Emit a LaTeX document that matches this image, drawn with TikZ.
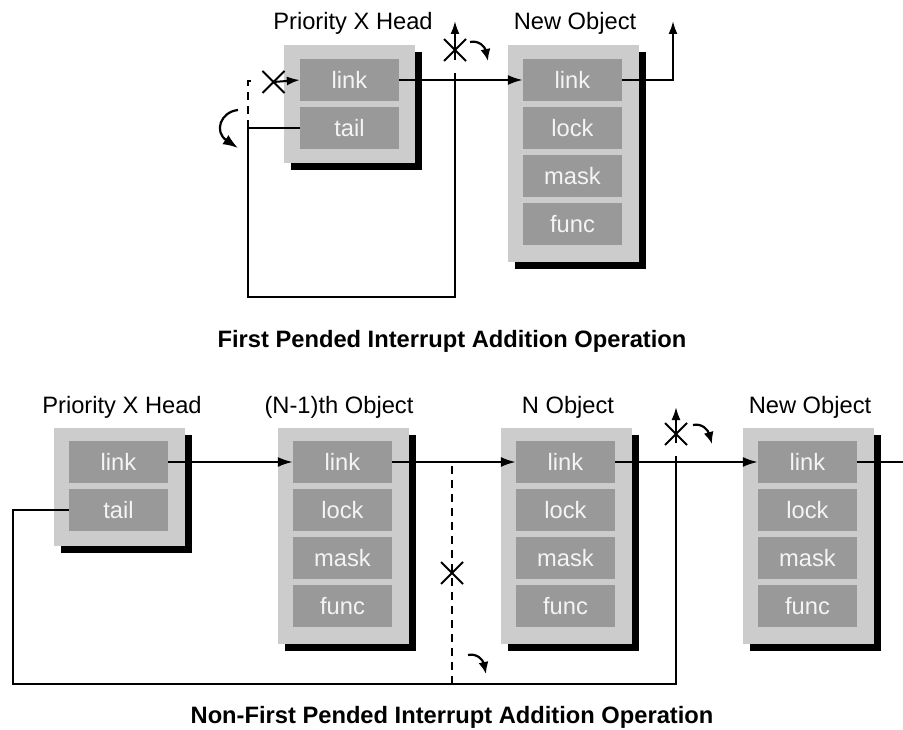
\documentclass[tikz,border=0pt]{standalone}
\usepackage{fontspec}
\setmainfont{Liberation Sans}
\usetikzlibrary{arrows.meta,shapes.misc,shadows}
\definecolor{boxgray}{HTML}{CCCCCC}
\definecolor{fieldgray}{HTML}{999999}
\definecolor{fieldtext}{HTML}{F4F4F4}
\newcommand\dfont{\fontsize{23.7}{28}\selectfont}
\begin{document}
\begin{tikzpicture}[x=1pt,y=-1pt,
  outerbox/.style={fill=boxgray, minimum width=131pt, inner sep=0pt,
    drop shadow={shadow xshift=7pt, shadow yshift=-7pt, fill=black, opacity=1}},
  field/.style={fill=fieldgray, text=fieldtext, minimum width=99pt, minimum height=42pt, inner sep=0pt, font=\dfont},
  lbl/.style={font=\dfont, text=black, inner sep=0pt},
  ttl/.style={font=\dfont\bfseries, text=black, inner sep=0pt},
  conn/.style={line width=2pt},
  dsh/.style={conn, dash pattern=on 8pt off 6pt},
  arr/.style={conn, -{Latex[length=15pt,width=10pt]}},
  arrsm/.style={conn, -{Latex[length=13pt,width=9pt]}},
  xmark/.style={cross out, draw, line width=2pt, minimum size=20pt, inner sep=0pt},
  curl/.style={line width=2.2pt, -{Latex[length=12pt,width=10pt]}},
  bigcurl/.style={line width=2.2pt, -{Latex[length=15pt,width=11pt]}}]
\useasboundingbox (0,0) rectangle (903,730);

% ---------- top diagram ----------
\node[outerbox, minimum height=118pt] (thead) at (349.5,104) {};
\node[field] (thl) at (349.5,80) {link};
\node[field] (tht) at (349.5,128) {tail};
\node[lbl] (thlab) at (353,23) {Priority X Head};

\node[outerbox, minimum height=217pt] (tnew) at (573,153.5) {};
\node[field] (tnl) at (572.5,80) {link};
\node[field] (tnk) at (572.5,128) {lock};
\node[field] (tnm) at (572.5,176) {mask};
\node[field] (tnf) at (572.5,224) {func};
\node[lbl] (tnlab) at (575,23) {New Object};

\coordinate (tj) at (455,80);
\coordinate (tjt) at (455,73);
\coordinate (tc1) at (248,128);
\coordinate (tc2) at (248,297);
\coordinate (tc3) at (455,297);
\coordinate (tc4) at (248,81);
\coordinate (tc5) at (255,81);
\draw[arr] (thl.east) -- (tnl.west);
\draw[conn] (tht.west) -- (tc1) -- (tc2) -- (tc3) -- (tjt);
\node[xmark] (tx1) at (273.5,82) {};
\draw[dsh] (tc1) -- (tc4) -- (tc5);
\draw[arrsm] (tx1.center) -- (thl.west);

\node[xmark] (tx2) at (455,50) {};
\coordinate (tup0) at (455,60);
\coordinate (tup1) at (455,21);
\draw[arrsm] (tup0) -- (tup1);
\coordinate (tcu0) at (470,42);
\coordinate (tcu1) at (488,61);
\draw[curl] (tcu0) .. controls (479,40) and (485,47) .. (tcu1);

\coordinate (tr1) at (673,80);
\coordinate (tr2) at (673,21);
\draw[arrsm] (tnl.east) -- (tr1) -- (tr2);

\coordinate (tl0) at (238,110);
\coordinate (tl1) at (238,148);
\draw[bigcurl] (tl0) .. controls (220,112) and (214,132) .. (tl1);

\node[ttl] (t1) at (452,341) {First Pended Interrupt Addition Operation};

% ---------- bottom diagram ----------
\node[outerbox, minimum height=118pt] (bhead) at (119,487) {};
\node[field] (bhl) at (118.5,462) {link};
\node[field] (bht) at (118.5,510) {tail};
\node[lbl] (bhlab) at (122,407) {Priority X Head};

\node[outerbox, minimum height=216pt] (bo1) at (343,536) {};
\node[field] (b1l) at (342.5,462) {link};
\node[field] (b1k) at (342.5,510) {lock};
\node[field] (b1m) at (342.5,558) {mask};
\node[field] (b1f) at (342.5,606) {func};
\node[lbl] (b1lab) at (339,407) {(N-1)th Object};

\node[outerbox, minimum height=216pt] (bo2) at (566,536) {};
\node[field] (b2l) at (565.5,462) {link};
\node[field] (b2k) at (565.5,510) {lock};
\node[field] (b2m) at (565.5,558) {mask};
\node[field] (b2f) at (565.5,606) {func};
\node[lbl] (b2lab) at (568,407) {N Object};

\node[outerbox, minimum height=216pt] (bo3) at (808,536) {};
\node[field] (b3l) at (807.5,462) {link};
\node[field] (b3k) at (807.5,510) {lock};
\node[field] (b3m) at (807.5,558) {mask};
\node[field] (b3f) at (807.5,606) {func};
\node[lbl] (b3lab) at (810,407) {New Object};

\draw[arr] (bhl.east) -- (b1l.west);
\draw[arr] (b1l.east) -- (b2l.west);

\coordinate (bd0) at (452,466);
\coordinate (bd1) at (452,684);
\draw[dsh] (bd0) -- (bd1);
\node[xmark] (bx1) at (452,573) {};
\coordinate (bcu0) at (468,655);
\coordinate (bcu1) at (486,674);
\draw[curl] (bcu0) .. controls (477,653) and (483,660) .. (bcu1);

\coordinate (bc1) at (13,510);
\coordinate (bc2) at (13,684);
\coordinate (bc3) at (676,684);
\coordinate (bjt) at (676,456);
\draw[conn] (bht.west) -- (bc1) -- (bc2) -- (bc3) -- (bjt);
\draw[arr] (b2l.east) -- (b3l.west);

\node[xmark] (bx2) at (676,434) {};
\coordinate (bup0) at (676,443);
\coordinate (bup1) at (676,407);
\draw[arrsm] (bup0) -- (bup1);
\coordinate (bcu2) at (693,425);
\coordinate (bcu3) at (712,444);
\draw[curl] (bcu2) .. controls (702,423) and (708,430) .. (bcu3);

\coordinate (bend) at (903,462);
\draw[conn] (b3l.east) -- (bend);

\node[ttl] (t2) at (452,717) {Non-First Pended Interrupt Addition Operation};
\end{tikzpicture}
\end{document}
